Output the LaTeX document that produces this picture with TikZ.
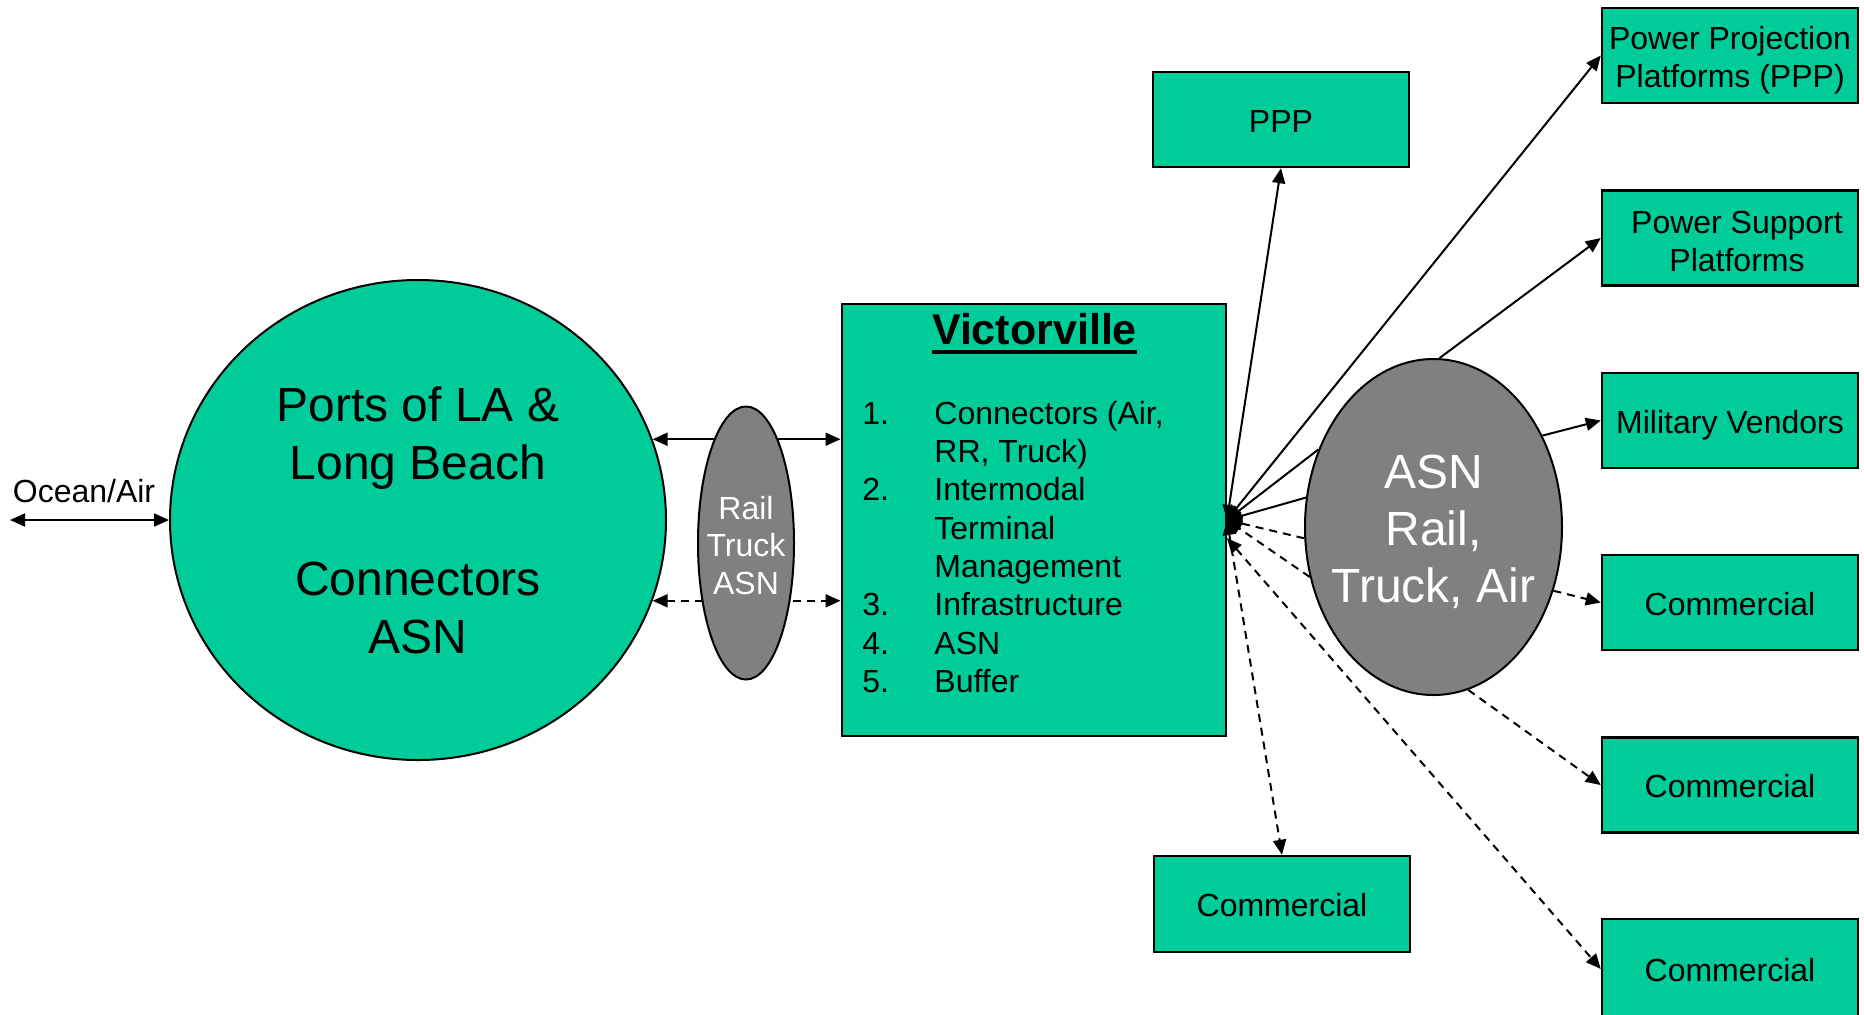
\documentclass[tikz,border=0pt]{standalone}
\usepackage{fontspec}
\setmainfont{Liberation Sans}
\usetikzlibrary{arrows.meta,shapes.geometric}
\definecolor{boxgreen}{HTML}{00CC99}
\definecolor{ovalgray}{HTML}{808080}
\begin{document}
\begin{tikzpicture}[x=0.5pt,y=-0.5pt,
  >={Triangle[length=7.5pt,width=6.5pt]},
  con/.style={line width=1pt},
  dsh/.style={line width=1pt,dash pattern=on 4pt off 3pt},
  greenbox/.style={draw,line width=1.2pt,fill=boxgreen,minimum width=128pt,minimum height=47.5pt,inner sep=0pt},
  boxtxt/.style={inner sep=0pt,align=center,font=\fontsize{16}{19}\selectfont},
  onetxt/.style={boxtxt,anchor=base},
  oval/.style={ellipse,draw,line width=1pt,inner sep=0pt},
  listtxt/.style={anchor=base west,inner sep=0pt,font=\fontsize{16}{19}\selectfont}]
\clip (0,0) rectangle (1864,1014);

% left circle
\node[oval,fill=boxgreen,minimum width=248pt,minimum height=240pt] (ports) at (418,520) {};
\node[align=center,font=\fontsize{24}{29}\selectfont] (portstxt) at (ports.center) {Ports of LA \&\\Long Beach\\[29pt]Connectors\\ASN};

% Ocean/Air
\coordinate (oa) at (10,520);
\node[font=\fontsize{16}{19}\selectfont] (oatxt) at (84,491) {Ocean/Air};
\draw[con,<->] (oa) -- (ports.west);

% Victorville box
\node[draw,line width=1.2pt,fill=boxgreen,minimum width=192pt,minimum height=216pt,inner sep=0pt] (vic) at (1033.7,520) {};
\node[inner sep=0pt,anchor=base,font=\fontsize{21.5}{24}\selectfont\bfseries] (victitle) at (1034.5,344) {Victorville};
\draw[line width=2pt] ([yshift=-4pt]victitle.base west) -- ([yshift=-4pt]victitle.base east);

\node[listtxt] (n1) at (862,424) {1.};
\node[listtxt] (t1a) at (934,424) {Connectors (Air,};
\node[listtxt] (t1b) at (934,462) {RR, Truck)};
\node[listtxt] (n2) at (862,500) {2.};
\node[listtxt] (t2a) at (934,500) {Intermodal};
\node[listtxt] (t2b) at (934,539) {Terminal};
\node[listtxt] (t2c) at (934,577) {Management};
\node[listtxt] (n3) at (862,615.5) {3.};
\node[listtxt] (t3) at (934,615.5) {Infrastructure};
\node[listtxt] (n4) at (862,654.5) {4.};
\node[listtxt] (t4) at (934,654.5) {ASN};
\node[listtxt] (n5) at (862,692.7) {5.};
\node[listtxt] (t5) at (934,692.7) {Buffer};

% connectors between ports and Victorville
\draw[con,<->] (ports.19) -- (ports.19 -| vic.west);
\draw[dsh,<->] (ports.-19) -- (ports.-19 -| vic.west);

% rail ellipse
\node[oval,fill=ovalgray,minimum width=48pt,minimum height=136.5pt] (rail) at (746,543) {};
\node[align=center,text=white,font=\fontsize{16}{18.75}\selectfont] (railtxt) at ([yshift=-1.2pt]rail.center) {Rail\\Truck\\ASN};

% right boxes
\node[greenbox] (ppplat) at (1730,55.5) {};
\node[boxtxt] (ppplatt) at ([yshift=-2.4pt]ppplat.center) {Power Projection\\Platforms (PPP)};
\node[greenbox] (psp) at (1730,238) {};
\node[boxtxt] (pspt) at ([xshift=3.5pt,yshift=-1.9pt]psp.center) {Power Support\\Platforms};
\node[greenbox] (mv) at (1730,420.5) {};
\node[onetxt] (mvt) at ([yshift=-6.25pt]mv.center) {Military Vendors};
\node[greenbox] (c1) at (1730,602.5) {};
\node[onetxt] (c1t) at ([yshift=-6.25pt]c1.center) {Commercial};
\node[greenbox] (c2) at (1730,785) {};
\node[onetxt] (c2t) at ([yshift=-6.25pt]c2.center) {Commercial};
\node[greenbox,minimum height=50pt] (c3) at (1730,969) {};
\node[onetxt] (c3t) at ([yshift=-6.25pt]c3.center) {Commercial};
\node[greenbox] (ppp) at (1281,119.5) {};
\node[onetxt] (pppt) at ([yshift=-6.25pt]ppp.center) {PPP};
\node[greenbox,minimum height=48pt] (bcom) at (1282,904) {};
\node[onetxt] (bcomt) at ([yshift=-6.25pt]bcom.center) {Commercial};

% ASN ellipse
\node[oval,fill=ovalgray,minimum width=128.5pt,minimum height=168pt] (asn) at (1433.5,527) {};
\node[align=center,text=white,font=\fontsize{24}{28.5}\selectfont] (asntxt) at ([yshift=-2.4pt]asn.center) {ASN\\Rail,\\Truck, Air};

% hub connectors
\coordinate (hub) at (vic.east);
\coordinate (hublow) at ([yshift=-9pt]vic.east);
\draw[con,<->] (hub) -- (ppp.south);
\draw[con,<->] (hub) -- (ppplat.west);
\draw[con,->] (asn.146) -- (hub);
\draw[con,->] (asn.167) -- (hub);
\draw[dsh,->] (asn.185) -- (hub);
\draw[dsh,->] (asn.202) -- (hub);
\draw[dsh,<->] (hub) -- (bcom.north);
\draw[dsh,<->] (hublow) -- (c3.west);
\draw[con,->] (asn.88) -- (psp.west);
\draw[con,->] (asn.40) -- (mv.west);
\draw[dsh,->] (asn.-28) -- (c1.west);
\draw[dsh,->] (asn.-78) -- (c2.west);
\end{tikzpicture}
\end{document}
